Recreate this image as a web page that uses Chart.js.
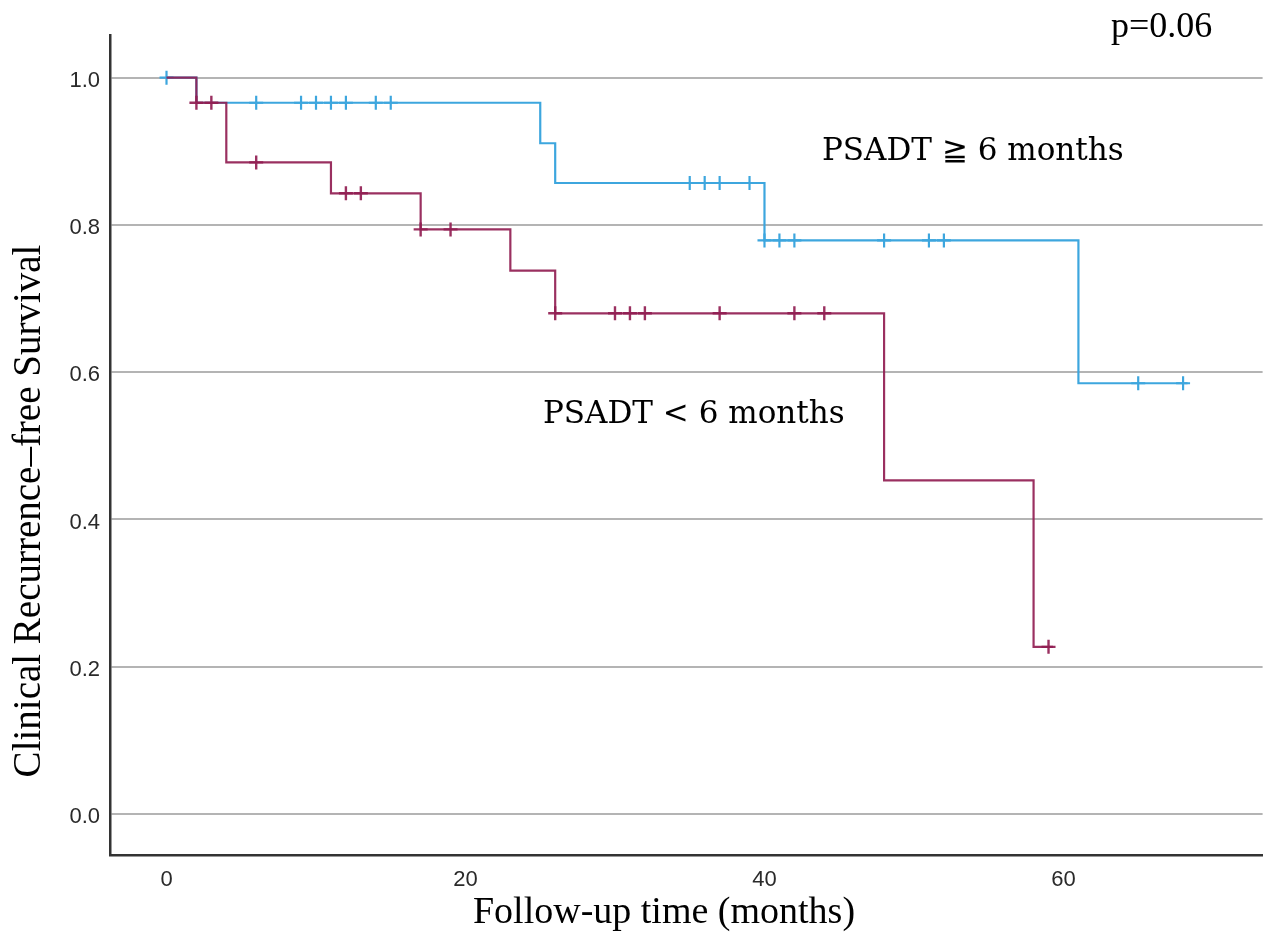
<!DOCTYPE html>
<html>
<head>
<meta charset="utf-8">
<script src="https://cdn.jsdelivr.net/npm/chart.js@4.4.1/dist/chart.umd.min.js"></script>
<style>
  html, body { margin: 0; padding: 0; background: #ffffff; }
  #wrap { width: 1272px; height: 935px; position: relative; }
</style>
</head>
<body>
<div id="wrap"><canvas id="c" width="1272" height="935"></canvas></div>
<script>
// ---- data ----
const xTickValues = [0, 20, 40, 60];
const yTickValues = [0.0, 0.2, 0.4, 0.6, 0.8, 1.0];

// PSADT >= 6 months (blue): event times and survival after the event
const blueTimes = [0, 2, 25, 26, 40, 61, 68.3];
const blueSurv  = [1.0, 0.966, 0.911, 0.857, 0.779, 0.585, 0.585];
const blueCensorTimes = [0, 6, 9, 10, 11, 12, 14, 15, 35, 36, 37, 39, 40, 41, 42, 48, 51, 52, 65, 68];

// PSADT < 6 months (red)
const redTimes = [0, 2, 4, 11, 17, 23, 26, 48, 58, 59.3];
const redSurv  = [1.0, 0.966, 0.885, 0.843, 0.794, 0.738, 0.680, 0.453, 0.227, 0.227];
const redCensorTimes = [2, 3, 6, 12, 13, 17, 19, 26, 30, 31, 32, 37, 42, 44, 59];

const xTitle = 'Follow-up time (months)';
const yTitle = 'Clinical Recurrence\u2013free Survival';
const pText = 'p=0.06';
const blueLabel = 'PSADT \u2267 6 months';
const redLabel = 'PSADT < 6 months';

// ---- helpers ----
function toPoints(ts, ss) { return ts.map((t, i) => ({ x: t, y: ss[i] })); }
function survAt(ts, ss, t) {
  let v = ss[0];
  for (let i = 0; i < ts.length; i++) { if (ts[i] <= t) v = ss[i]; }
  return v;
}
function censorPoints(cts, ts, ss) { return cts.map(t => ({ x: t, y: survAt(ts, ss, t) })); }

const BLUE = '#3da6de';
const RED = 'rgba(145,30,82,0.92)';

const textPlugin = {
  id: 'texts',
  afterDraw(chart) {
    const ctx = chart.ctx;
    ctx.save();
    ctx.fillStyle = '#000';
    ctx.textBaseline = 'middle';
    // annotations
    ctx.textAlign = 'left';
    ctx.font = '31px "DejaVu Serif"';
    ctx.fillText(blueLabel, 822, 152);
    ctx.fillText(redLabel, 543, 415);
    ctx.font = '36px "Liberation Serif"';
    ctx.fillText(pText, 1111, 28);
    // axis titles
    ctx.textAlign = 'center';
    ctx.font = '38px "Liberation Serif"';
    ctx.fillText(xTitle, 664, 913);
    ctx.font = '39px "Liberation Serif"';
    ctx.translate(30, 511);
    ctx.rotate(-Math.PI / 2);
    ctx.fillText(yTitle, 0, 0);
    ctx.restore();
  }
};

new Chart(document.getElementById('c'), {
  type: 'scatter',
  data: {
    datasets: [
      {
        label: 'red censored',
        data: censorPoints(redCensorTimes, redTimes, redSurv),
        pointStyle: 'cross', pointRadius: 7, pointBorderWidth: 2.4,
        borderColor: RED, backgroundColor: RED, showLine: false
      },
      {
        label: 'PSADT < 6 months',
        data: toPoints(redTimes, redSurv),
        showLine: true, stepped: 'before', pointRadius: 0,
        borderColor: RED, borderWidth: 2.2, fill: false
      },
      {
        label: 'blue censored',
        data: censorPoints(blueCensorTimes, blueTimes, blueSurv),
        pointStyle: 'cross', pointRadius: 7, pointBorderWidth: 2.2,
        borderColor: BLUE, backgroundColor: BLUE, showLine: false
      },
      {
        label: 'PSADT >= 6 months',
        data: toPoints(blueTimes, blueSurv),
        showLine: true, stepped: 'before', pointRadius: 0,
        borderColor: BLUE, borderWidth: 2.2, fill: false
      }
    ]
  },
  options: {
    responsive: false,
    animation: false,
    devicePixelRatio: 1,
    layout: { padding: { top: 35, right: 0, left: 0, bottom: 0 } },
    plugins: { legend: { display: false }, tooltip: { enabled: false } },
    scales: {
      x: {
        type: 'linear',
        min: -3.78, max: 73.32,
        afterBuildTicks: (s) => { s.ticks = xTickValues.map(v => ({ value: v })); },
        afterFit: (s) => { s.height = 80; },
        grid: { display: true, color: 'rgba(0,0,0,0)', drawTicks: false },
        border: { display: true, color: '#333333', width: 2.5 },
        ticks: {
          padding: 12, color: '#2a2a2a', maxRotation: 0,
          font: { family: '"Liberation Sans", Arial, sans-serif', size: 22 },
          callback: (v) => String(v)
        }
      },
      y: {
        type: 'linear',
        min: -0.0557, max: 1.058,
        afterBuildTicks: (s) => { s.ticks = yTickValues.map(v => ({ value: v })); },
        afterFit: (s) => { s.width = 110; },
        grid: { display: true, color: '#b4b4b4', lineWidth: 2, drawTicks: false },
        border: { display: true, color: '#333333', width: 2.5 },
        ticks: {
          padding: 10, color: '#2a2a2a', labelOffset: 3,
          font: { family: '"Liberation Sans", Arial, sans-serif', size: 22 },
          callback: (v) => Number(v).toFixed(1)
        }
      }
    }
  },
  plugins: [textPlugin]
});
</script>
</body>
</html>
